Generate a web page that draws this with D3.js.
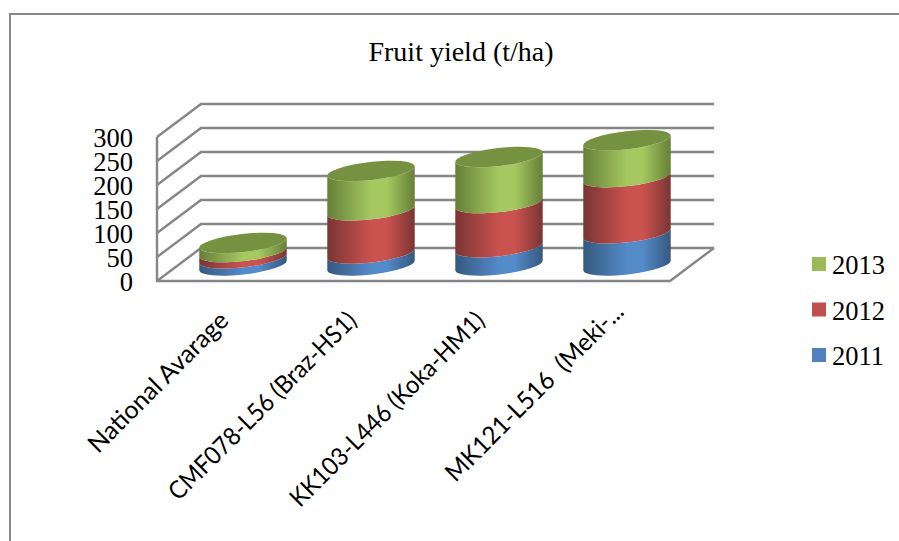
<!DOCTYPE html>
<html>
<head>
<meta charset="utf-8">
<script src="https://cdn.jsdelivr.net/npm/d3@7"></script>
<style>
  html, body { margin: 0; padding: 0; background: #fff; }
  svg { display: block; }
</style>
</head>
<body>
<div id="chart"></div>
<script>
// values
const categories = ["National Avarage", "CMF078-L56 (Braz-HS1)", "KK103-L446 (Koka-HM1)", "MK121-L516  (Meki-..."];
const years = ["2011", "2012", "2013"];
const values2011 = [15, 25, 38, 67];
const values2012 = [13, 90, 92, 117];
const values2013 = [19, 82, 96, 77];
const yTicks = [0, 50, 100, 150, 200, 250, 300];
const legendOrder = ["2013", "2012", "2011"];

const width = 899, height = 541;
const depthX = 44, depthY = -33;
const gridColor = "#868686";
const serif = "'Liberation Serif', 'Times New Roman', serif";

const colors = {
    "2011": { edge: "#35597f", mid: "#538ac8", swatch: "#4f81bd" },
    "2012": { edge: "#7a3533", mid: "#ca5350", swatch: "#c0504d" },
    "2013": { edge: "#667f38", mid: "#a5c860", swatch: "#9bbb59", top: "#76913f" }
};

const svg = d3.select("#chart").append("svg")
    .attr("width", width)
    .attr("height", height)
    .attr("viewBox", `0 0 ${width} ${height}`);

const y = d3.scaleLinear().domain([0, 300]).range([281, 137]);
const x = d3.scaleBand().domain(categories).range([179, 691])
    .paddingInner(0.3125).paddingOuter(0.15625);

// outer frame, runs off the page on the right and at the bottom
svg.append("path")
    .attr("d", `M899,14H10V541`)
    .attr("fill", "none")
    .attr("stroke", "#888")
    .attr("stroke-width", 2);

// 3D walls
const frontLeft = 157, frontRight = 670;
const walls = svg.append("g")
    .attr("fill", "none")
    .attr("stroke", gridColor)
    .attr("stroke-width", 2.4);

walls.selectAll(".grid")
    .data(yTicks)
    .join("path")
    .attr("class", "grid")
    .attr("d", d => `M${frontLeft},${y(d)}L${frontLeft + depthX},${y(d) + depthY}H${frontRight + depthX}`);

walls.append("path").attr("d", `M${frontLeft},${y(300)}V${y(0)}H${frontRight}L${frontRight + depthX},${y(0) + depthY}`);

// gradients for the cylinder sides
const defs = svg.append("defs");
years.forEach(yr => {
    const g = defs.append("linearGradient").attr("id", "grad" + yr);
    g.append("stop").attr("offset", "0%").attr("stop-color", colors[yr].edge);
    g.append("stop").attr("offset", "50%").attr("stop-color", colors[yr].mid);
    g.append("stop").attr("offset", "68%").attr("stop-color", colors[yr].mid);
    g.append("stop").attr("offset", "100%").attr("stop-color", colors[yr].edge);
});

// stacked cylinders
const rows = categories.map((c, i) => ({ cat: c, "2011": values2011[i], "2012": values2012[i], "2013": values2013[i] }));
const stacked = d3.stack().keys(years)(rows);

const tilt = -6.5, ryEllipse = 9, baseLift = 15.5;
const rad = tilt * Math.PI / 180;

function ends(cat, v) {
    const rx = x.bandwidth() / 2;
    const cx = x(cat) + rx, cy = y(v) - baseLift;
    return {
        rx,
        left: [cx - rx * Math.cos(rad), cy - rx * Math.sin(rad)],
        right: [cx + rx * Math.cos(rad), cy + rx * Math.sin(rad)],
        cx, cy
    };
}

function sidePath(cat, lo, hi) {
    const a = ends(cat, lo), b = ends(cat, hi);
    return `M${a.left}A${a.rx},${ryEllipse} ${tilt} 0 0 ${a.right}L${b.right}A${b.rx},${ryEllipse} ${tilt} 0 1 ${b.left}Z`;
}

const bars = svg.append("g");
stacked.forEach(layer => {
    bars.selectAll(".s" + layer.key)
        .data(layer)
        .join("path")
        .attr("class", "s" + layer.key)
        .attr("fill", `url(#grad${layer.key})`)
        .attr("d", d => sidePath(d.data.cat, d[0], d[1]));
});

bars.selectAll(".cap")
    .data(stacked[2])
    .join("ellipse")
    .attr("class", "cap")
    .attr("rx", x.bandwidth() / 2)
    .attr("ry", ryEllipse)
    .attr("fill", colors["2013"].top)
    .attr("transform", d => {
        const e = ends(d.data.cat, d[1]);
        return `translate(${e.cx},${e.cy}) rotate(${tilt})`;
    });

// y axis labels
const yAxis = svg.append("g")
    .attr("transform", "translate(133,1.5)")
    .call(d3.axisLeft(y).tickValues(yTicks).tickSize(0).tickPadding(0));
yAxis.select(".domain").remove();
yAxis.selectAll("text")
    .attr("font-family", serif)
    .attr("font-size", 26.5)
    .attr("fill", "#000");

// category labels: Lato digits run wider than the original font, so squeeze
// those labels a bit; the truncated last label sits further up and right
const labelSqueeze = [1, 0.93, 0.93, 0.96];
const labelNudge = [[0, 0], [0, 0], [0, 0], [11, -9]];
const xAxis = svg.append("g")
    .call(d3.axisBottom(x).tickSize(0).tickPadding(0));
xAxis.select(".domain").remove();
xAxis.selectAll(".tick").attr("transform", (d, i) =>
    `translate(${x(d) + x.bandwidth() / 2 - 19 + labelNudge[i][0]},${316 + labelNudge[i][1]})`);
xAxis.selectAll("text")
    .attr("font-family", "Lato, 'Open Sans', sans-serif")
    .attr("font-size", 25)
    .attr("fill", "#000")
    .attr("text-anchor", "end")
    .attr("x", 0)
    .attr("y", 0)
    .attr("dy", "0.35em")
    .style("white-space", "pre")
    .attr("transform", "rotate(-45)")
    .attr("lengthAdjust", "spacingAndGlyphs")
    .attr("textLength", function(d, i) { return this.getComputedTextLength() * labelSqueeze[i]; });

// title
svg.append("text")
    .attr("x", 461)
    .attr("y", 61)
    .attr("text-anchor", "middle")
    .attr("font-family", serif)
    .attr("font-size", 28)
    .attr("fill", "#000")
    .text("Fruit yield (t/ha)");

// legend
const legendY = d3.scalePoint().domain(legendOrder).range([264, 355]);
const legend = svg.append("g").selectAll("g")
    .data(legendOrder)
    .join("g")
    .attr("transform", d => `translate(812,${legendY(d)})`);
legend.append("rect")
    .attr("y", -7)
    .attr("width", 14)
    .attr("height", 14)
    .attr("fill", d => colors[d].swatch);
legend.append("text")
    .attr("x", 20)
    .attr("y", 10)
    .attr("font-family", serif)
    .attr("font-size", 26.5)
    .attr("fill", "#000")
    .text(d => d);
</script>
</body>
</html>
